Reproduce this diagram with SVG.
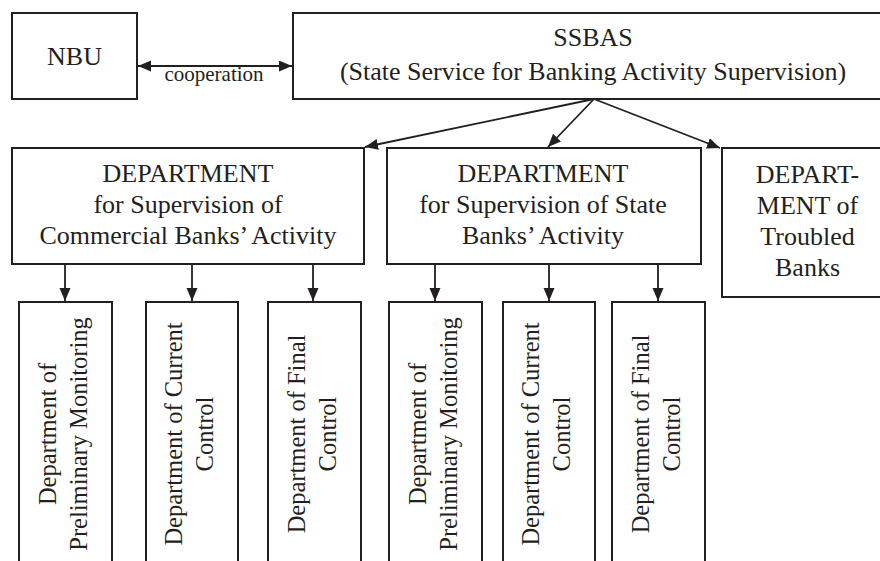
<svg xmlns="http://www.w3.org/2000/svg" width="880" height="561" viewBox="0 0 880 561" font-family="'Liberation Serif', 'Times New Roman', serif">
<style>
.box{fill:#fff;stroke:#231f20;stroke-width:2}
text{font-family:'Liberation Serif','Times New Roman',serif}
.t{font-size:26px;fill:#231f20;text-anchor:middle}
.s{font-size:21px}
.v{font-size:24.5px}
.c{stroke:#231f20;stroke-width:1.8;fill:none}
</style>
<defs>
<marker id="ah" markerUnits="userSpaceOnUse" markerWidth="14" markerHeight="12" refX="13" refY="5.5" orient="auto-start-reverse">
<path d="M0,0 L13,5.5 L0,11 Z" fill="#231f20"/>
</marker>
</defs>
<rect width="880" height="561" fill="#fff"/>
<g id="connectors">
<line class="c" x1="138" y1="66" x2="292" y2="66" marker-start="url(#ah)" marker-end="url(#ah)"/>
<line class="c" x1="594" y1="99" x2="365" y2="147" marker-end="url(#ah)"/>
<line class="c" x1="594" y1="99" x2="548" y2="147" marker-end="url(#ah)"/>
<line class="c" x1="594" y1="99" x2="720" y2="148" marker-end="url(#ah)"/>
<line class="c" x1="65" y1="265" x2="65" y2="301" marker-end="url(#ah)"/>
<line class="c" x1="192" y1="265" x2="192" y2="301" marker-end="url(#ah)"/>
<line class="c" x1="313" y1="265" x2="313" y2="301" marker-end="url(#ah)"/>
<line class="c" x1="435" y1="265" x2="435" y2="301" marker-end="url(#ah)"/>
<line class="c" x1="549" y1="265" x2="549" y2="301" marker-end="url(#ah)"/>
<line class="c" x1="658" y1="265" x2="658" y2="301" marker-end="url(#ah)"/>
<text class="t s" x="214" y="81">cooperation</text>
</g>
<g id="nbu">
<rect class="box" x="12" y="13" width="125" height="86"/>
<text class="t" x="74.5" y="65">NBU</text>
</g>
<g id="ssbas">
<rect class="box" x="293" y="13" width="600" height="86"/>
<text class="t" x="593" y="46">SSBAS</text>
<text class="t" x="593" y="80">(State Service for Banking Activity Supervision)</text>
</g>
<g id="dept-commercial">
<rect class="box" x="12" y="148" width="352" height="116"/>
<text class="t" x="188" y="182">DEPARTMENT</text>
<text class="t" x="188" y="213">for Supervision of</text>
<text class="t" x="188" y="244">Commercial Banks’ Activity</text>
</g>
<g id="dept-state">
<rect class="box" x="387" y="148" width="314" height="116"/>
<text class="t" x="543" y="182">DEPARTMENT</text>
<text class="t" x="543" y="213">for Supervision of State</text>
<text class="t" x="543" y="244">Banks’ Activity</text>
</g>
<g id="dept-troubled">
<rect class="box" x="722" y="148" width="171" height="149"/>
<text class="t" x="807.5" y="183">DEPART-</text>
<text class="t" x="807.5" y="214">MENT of</text>
<text class="t" x="807.5" y="245">Troubled</text>
<text class="t" x="807.5" y="276">Banks</text>
</g>
<g id="c-prelim">
<rect class="box" x="19" y="302" width="93" height="270"/>
<g transform="translate(65.5,434) rotate(-90)"><text class="t v" x="0" y="-10">Department of</text><text class="t v" x="0" y="21">Preliminary Monitoring</text></g>
</g>
<g id="c-current">
<rect class="box" x="146" y="302" width="92" height="270"/>
<g transform="translate(192,434) rotate(-90)"><text class="t v" x="0" y="-10">Department of Current</text><text class="t v" x="0" y="21">Control</text></g>
</g>
<g id="c-final">
<rect class="box" x="268" y="302" width="93" height="270"/>
<g transform="translate(314.5,434) rotate(-90)"><text class="t v" x="0" y="-10">Department of Final</text><text class="t v" x="0" y="21">Control</text></g>
</g>
<g id="s-prelim">
<rect class="box" x="389" y="302" width="93" height="270"/>
<g transform="translate(435.5,434) rotate(-90)"><text class="t v" x="0" y="-10">Department of</text><text class="t v" x="0" y="21">Preliminary Monitoring</text></g>
</g>
<g id="s-current">
<rect class="box" x="503" y="302" width="92" height="270"/>
<g transform="translate(549,434) rotate(-90)"><text class="t v" x="0" y="-10">Department of Current</text><text class="t v" x="0" y="21">Control</text></g>
</g>
<g id="s-final">
<rect class="box" x="612" y="302" width="93" height="270"/>
<g transform="translate(658.5,434) rotate(-90)"><text class="t v" x="0" y="-10">Department of Final</text><text class="t v" x="0" y="21">Control</text></g>
</g>
</svg>
